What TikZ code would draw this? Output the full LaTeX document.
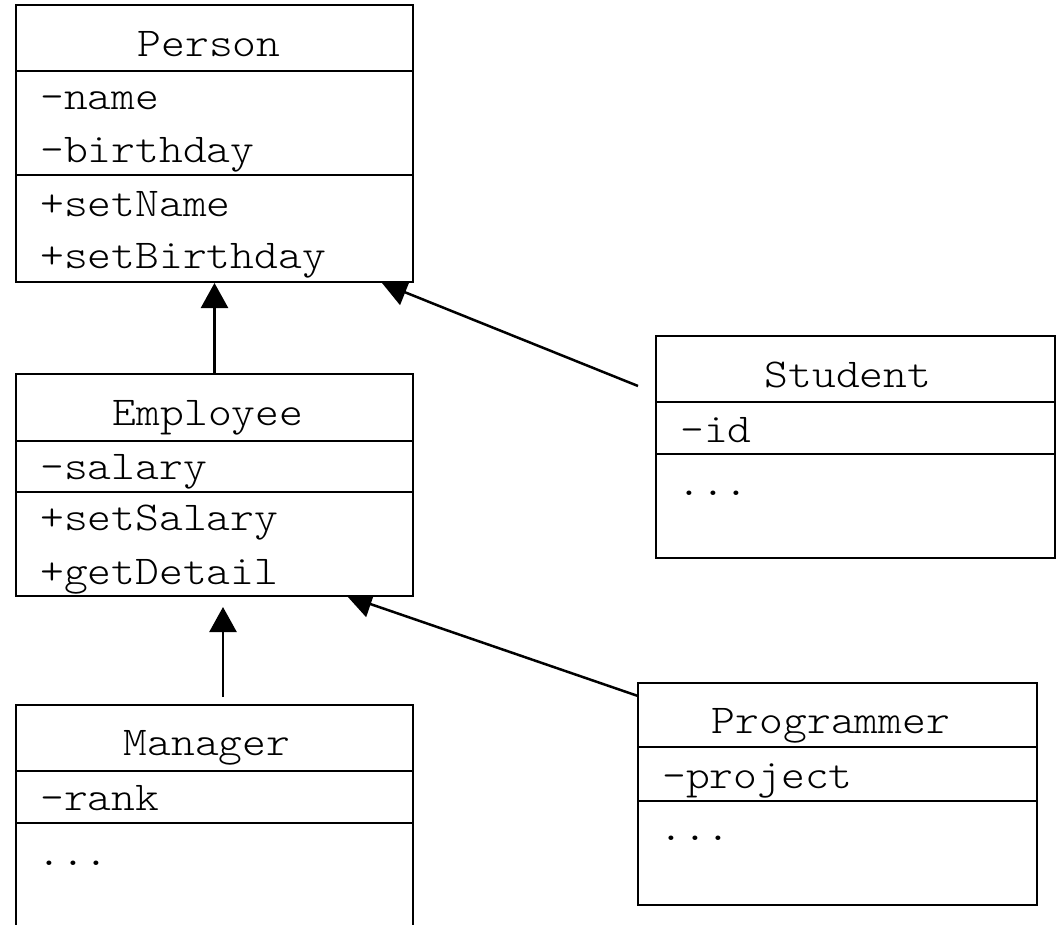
\documentclass[tikz,border=0pt]{standalone}
\usepackage{fontspec}
\newfontfamily\umlfont{Latin Modern Mono Light}[FakeStretch=1.106]
\usetikzlibrary{arrows.meta,backgrounds}
\begin{document}
\begin{tikzpicture}[x=1pt,y=-1pt,
  classbox/.style={draw, line width=2.6pt, fill=white, rectangle, inner sep=0pt, outer sep=0pt, anchor=north west},
  divider/.style={line width=2pt},
  member/.style={inner sep=0pt, font=\umlfont\fontsize{41}{42}\selectfont, anchor=base west},
  classname/.style={inner sep=0pt, font=\umlfont\fontsize{41}{42}\selectfont, anchor=base},
  inherit/.style={line width=2.5pt, -{Triangle[length=25pt,width=27pt]}}
]
\useasboundingbox (0,0) rectangle (1057,925);
\clip (0,0) rectangle (1057,925);

% class boxes
\node[classbox, minimum width=397pt, minimum height=277pt] (person) at (16,5) {};
\node[classbox, minimum width=397pt, minimum height=222pt] (employee) at (16,374) {};
\node[classbox, minimum width=397pt, minimum height=240pt] (manager) at (16,705) {};
\node[classbox, minimum width=399pt, minimum height=222pt] (student) at (656,336) {};
\node[classbox, minimum width=399pt, minimum height=222pt] (programmer) at (638,683) {};

% dividers
\draw[divider] (person.west |- 0,71) -- (person.east |- 0,71);
\draw[divider] (person.west |- 0,175) -- (person.east |- 0,175);
\draw[divider] (employee.west |- 0,441) -- (employee.east |- 0,441);
\draw[divider] (employee.west |- 0,492) -- (employee.east |- 0,492);
\draw[divider] (manager.west |- 0,771) -- (manager.east |- 0,771);
\draw[divider] (manager.west |- 0,823) -- (manager.east |- 0,823);
\draw[divider] (student.west |- 0,402) -- (student.east |- 0,402);
\draw[divider] (student.west |- 0,454) -- (student.east |- 0,454);
\draw[divider] (programmer.west |- 0,747) -- (programmer.east |- 0,747);
\draw[divider] (programmer.west |- 0,801) -- (programmer.east |- 0,801);

% texts
\node[classname] (person-name) at (209,57) {Person};
\node[member] (person-a1) at (40,110) {-name};
\node[member] (person-a2) at (40,163) {-birthday};
\node[member] (person-m1) at (40,217) {+setName};
\node[member] (person-m2) at (40,269) {+setBirthday};

\node[classname] (employee-name) at (208,425) {Employee};
\node[member] (employee-a1) at (40,479) {-salary};
\node[member] (employee-m1) at (40,530) {+setSalary};
\node[member] (employee-m2) at (40,584) {+getDetail};

\node[classname] (manager-name) at (207,755) {Manager};
\node[member] (manager-a1) at (40,810) {-rank};
\node[member] (manager-m1) at (37,865) {...};

\node[classname] (student-name) at (848,387) {Student};
\node[member] (student-a1) at (680,442) {-id};
\node[member] (student-m1) at (677,495) {...};

\node[classname] (programmer-name) at (831,733) {Programmer};
\node[member] (programmer-a1) at (662,788) {-project};
\node[member] (programmer-m1) at (659,840) {...};

% inheritance connectors (behind the boxes)
\begin{pgfonlayer}{background}
\draw[inherit] (employee.north) -- ([yshift=-1pt]person.south);
\draw[inherit] ([xshift=8.5pt,yshift=8pt]manager.north) -- ([xshift=8.5pt,yshift=-11pt]employee.south);
\draw[inherit] ([xshift=-18pt,yshift=-50pt]student.north west) -- ([xshift=-31pt,yshift=-1pt]person.south east);
\draw[inherit] ([yshift=-13pt]programmer.north west) -- ([xshift=-66pt]employee.south east);
\end{pgfonlayer}
\end{tikzpicture}
\end{document}
